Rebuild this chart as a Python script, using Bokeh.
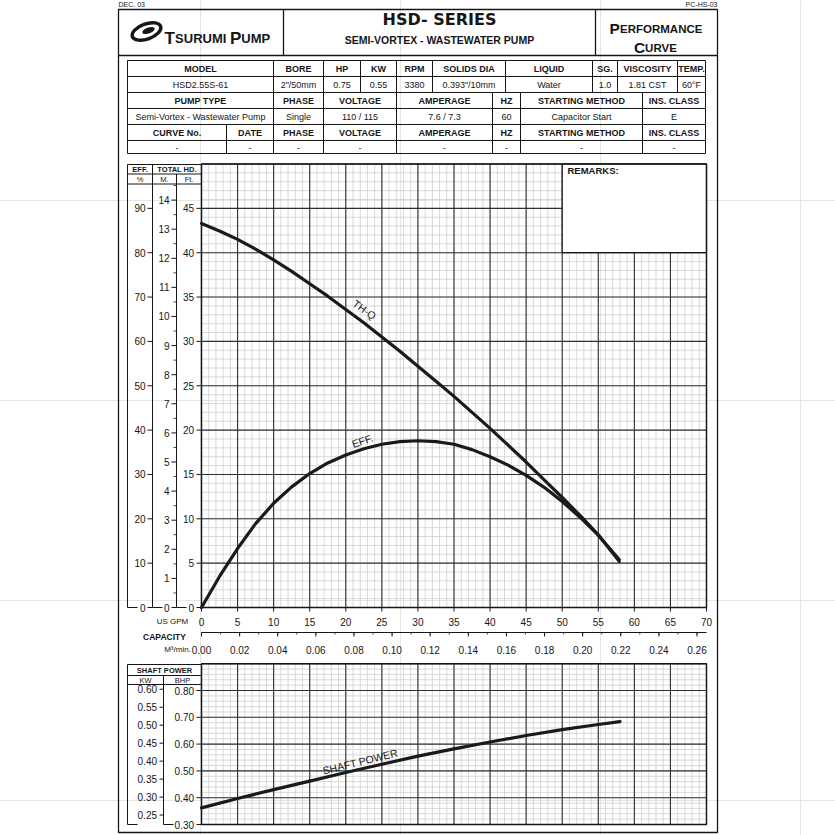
import numpy as np
from bokeh.plotting import figure
from bokeh.models import Range1d
from bokeh.core.properties import value
from bokeh.embed import file_html
from bokeh.resources import INLINE

# ---------------- chart data ----------------
capacity_gpm = [0, 2.5, 5, 7.5, 10, 12.5, 15, 17.5, 20, 22.5, 25, 27.5, 30,
                32.5, 35, 37.5, 40, 42.5, 45, 47.5, 50, 52.5, 55, 57.9]
total_head_ft = [43.3, 42.45, 41.5, 40.4, 39.2, 37.9, 36.5, 35.1, 33.6, 32.1, 30.5, 28.9,
                 27.2, 25.5, 23.8, 22.0, 20.2, 18.3, 16.4, 14.4, 12.4, 10.35, 8.2, 5.2]
efficiency_pct = [0.0, 7.0, 13.3, 18.9, 23.5, 27.2, 30.2, 32.6, 34.4, 35.8, 36.8, 37.4,
                  37.6, 37.4, 36.8, 35.6, 34.0, 32.1, 29.8, 27.1, 23.9, 20.3, 16.3, 10.8]
power_gpm = [0, 5, 10, 15, 20, 25, 30, 35, 40, 45, 50, 55, 58]
shaft_power_bhp = [0.362, 0.397, 0.430, 0.462, 0.494, 0.525, 0.555, 0.582, 0.608,
                   0.632, 0.654, 0.673, 0.684]

gpm_ticks = [0, 5, 10, 15, 20, 25, 30, 35, 40, 45, 50, 55, 60, 65, 70]
m3_ticks = [0.00, 0.02, 0.04, 0.06, 0.08, 0.10, 0.12, 0.14, 0.16, 0.18, 0.20, 0.22, 0.24, 0.26]
ft_ticks = [0, 5, 10, 15, 20, 25, 30, 35, 40, 45]
m_ticks = [0, 1, 2, 3, 4, 5, 6, 7, 8, 9, 10, 11, 12, 13, 14]
eff_ticks = [0, 10, 20, 30, 40, 50, 60, 70, 80, 90]
kw_ticks = [0.25, 0.30, 0.35, 0.40, 0.45, 0.50, 0.55, 0.60]
bhp_ticks = [0.30, 0.40, 0.50, 0.60, 0.70, 0.80]

# specification table text
spec_hdr = ["MODEL", "BORE", "HP", "KW", "RPM", "SOLIDS DIA", "LIQUID", "SG.", "VISCOSITY", "TEMP."]
spec_val = ["HSD2.55S-61", '2"/50mm', "0.75", "0.55", "3380", '0.393"/10mm', "Water", "1.0", "1.81 CST", "60°F"]
elec_hdr = ["PUMP TYPE", "PHASE", "VOLTAGE", "AMPERAGE", "HZ", "STARTING METHOD", "INS. CLASS"]
elec_val = ["Semi-Vortex - Wastewater Pump", "Single", "110 / 115", "7.6 / 7.3", "60", "Capacitor Start", "E"]
curve_hdr = ["CURVE No.", "DATE", "PHASE", "VOLTAGE", "AMPERAGE", "HZ", "STARTING METHOD", "INS. CLASS"]
curve_val = ["-", "-", "-", "-", "-", "-", "-", "-"]

# ---------------- layout (pixels) ----------------
W = H = 835
QX0, QX1 = 201.0, 706.0          # 0 .. 70 GPM
FT_Y0, FT_Y1 = 607.0, 163.5      # 0 .. 50 ft
BH_Y0, BH_Y1 = 824.0, 663.2      # 0.30 .. 0.90 BHP
GAL_PER_M3 = 264.172
FT_PER_M = 3.28084
KW_PER_HP = 0.7457

s_q = (QX1 - QX0) / 70.0
s_ft = (FT_Y0 - FT_Y1) / 50.0
s_bh = (BH_Y0 - BH_Y1) / 0.6


def xr(v0, p0, s):
    return Range1d(v0 - p0 / s, v0 + (W - p0) / s)


def yr(v0, p0, s):
    return Range1d(v0 - (H - p0) / s, v0 + p0 / s)


p = figure(width=W, height=H, x_range=Range1d(0, W), y_range=Range1d(H, 0),
           output_backend="svg", toolbar_location=None, min_border=0,
           x_axis_location=None, y_axis_location=None, outline_line_color=None,
           background_fill_color="white", border_fill_color="white")
p.extra_x_ranges = {"q": xr(0, QX0, s_q), "m3": xr(0, QX0, s_q * GAL_PER_M3)}
p.extra_y_ranges = {"ft": yr(0, FT_Y0, s_ft), "eff": yr(0, FT_Y0, s_ft / 2.0),
                    "m": yr(0, FT_Y0, s_ft * FT_PER_M),
                    "bhp": yr(0.3, BH_Y0, s_bh),
                    "kw": yr(0.3 * KW_PER_HP, BH_Y0, s_bh / KW_PER_HP)}

FONT = "Liberation Sans"
INK = "#161616"


def seg(x0, y0, x1, y1, color=INK, width=1.0, xn="default", yn="default"):
    p.segment(x0=x0, y0=y0, x1=x1, y1=y1, line_color=color, line_width=width,
              x_range_name=xn, y_range_name=yn)


def txt(x, y, t, size, bold=False, align="center", xn="default", yn="default",
        angle=0.0, font=FONT, color=INK, baseline="middle"):
    p.text(x=x, y=y, text=t if isinstance(t, list) else [t],
           x_range_name=xn, y_range_name=yn, angle=angle,
           text_font=value(font), text_font_size=f"{size}px",
           text_font_style="bold" if bold else "normal",
           text_align=align, text_baseline=baseline, text_color=color)


def box(l, r, t, b, width=1.0, color=INK, fill=None):
    p.quad(left=l, right=r, top=t, bottom=b, fill_color=fill, line_color=color,
           line_width=width)


# ---------------- page header ----------------
txt(118, 4, "DEC. 03", 7, align="left")
txt(717, 4, "PC-HS-03", 7, align="right")
box(118, 717, 9, 832, width=1.3)
seg([118, 283, 595], [55, 9, 9], [717, 283, 595], [55, 55, 55], width=1.3)

p.ellipse(x=146, y=31, width=30, height=15, angle=0.35, fill_color=None,
          line_color=INK, line_width=3.5)
p.ellipse(x=148, y=30, width=13, height=6, angle=0.35, fill_color=INK, line_color=None)
# small-caps company name
txt(164, 38, "T", 17, bold=True, align="left", baseline="alphabetic")
txt(174.6, 38, "SURUMI", 13, bold=True, align="left", baseline="alphabetic")
txt(229.5, 38, "P", 17, bold=True, align="left", baseline="alphabetic")
txt(240.8, 38, "UMP", 13, bold=True, align="left", baseline="alphabetic")

txt(439, 19, "HSD- SERIES", 16, bold=True, font="DejaVu Sans")
txt(439, 39, "SEMI-VORTEX - WASTEWATER PUMP", 10.5, bold=True)

txt(609, 28, "P", 15.5, bold=True, align="left", baseline="alphabetic")
txt(619.5, 28, "ERFORMANCE", 11.5, bold=True, align="left", baseline="alphabetic")
txt(633.5, 47, "C", 15.5, bold=True, align="left", baseline="alphabetic")
txt(644.6, 47, "URVE", 11.5, bold=True, align="left", baseline="alphabetic")

# ---------------- specification table ----------------
row_y = [60, 76, 92, 108, 124, 140, 153]
edges_a = [127, 273, 323, 360, 396, 432, 505, 592, 617, 677, 705]
edges_b = [127, 273, 323, 396, 492, 520, 642, 705]
edges_c = [127, 226, 273, 323, 396, 492, 520, 642, 705]
rows = [(edges_a, spec_hdr, True), (edges_a, spec_val, False),
        (edges_b, elec_hdr, True), (edges_b, elec_val, False),
        (edges_c, curve_hdr, True), (edges_c, curve_val, False)]
for i, (ed, labels, bold) in enumerate(rows):
    top, bot = row_y[i], row_y[i + 1]
    box(ed[:-1], ed[1:], top, bot, width=1.0)
    cx = [(a + b) / 2 for a, b in zip(ed[:-1], ed[1:])]
    txt(cx, (top + bot) / 2 + 0.5, labels, 9, bold=bold)

# ---------------- main chart grid ----------------
minor_q = np.arange(0, 71, 1)
minor_ft = np.arange(0, 51, 1)
seg(minor_q, 0, minor_q, 50, color="#c8c8c8", width=0.7, xn="q", yn="ft")
seg(0, minor_ft, 70, minor_ft, color="#c8c8c8", width=0.7, xn="q", yn="ft")
major_ft = np.arange(0, 51, 5)
seg(gpm_ticks, 0, gpm_ticks, 50, color="#303030", width=1.1, xn="q", yn="ft")
seg(0, major_ft, 70, major_ft, color="#303030", width=1.1, xn="q", yn="ft")
p.quad(left=50, right=70, bottom=40, top=50, fill_color="white", line_color=INK,
       line_width=1.2, x_range_name="q", y_range_name="ft")
p.quad(left=0, right=70, bottom=0, top=50, fill_color=None, line_color=INK,
       line_width=1.4, x_range_name="q", y_range_name="ft")
txt(567, 170, "REMARKS:", 9.5, bold=True, align="left")

# bottom ticks of main chart
seg(gpm_ticks, FT_Y0, gpm_ticks, FT_Y0 + 4, width=1.0, xn="q")

# left axis columns (main)
seg([127, 152, 176], [164, 164, 173.5], [127, 152, 176], [FT_Y0] * 3, width=1.0)
seg([127, 152, 176], [FT_Y0] * 3, [137, 162, 186], [FT_Y0] * 3, width=1.0)
seg(127, [164, 173.5, 183.5], 201, [164, 173.5, 183.5], width=1.0)
txt(139.5, 169, "EFF.", 7.5, bold=True)
txt(176.5, 169, "TOTAL HD.", 7.5, bold=True)
txt(139.5, 178.5, "%", 7.5)
txt(164, 178.5, "M.", 7.5)
txt(188.5, 178.5, "Ft.", 7.5)

seg(147, eff_ticks, 152, eff_ticks, width=1.0, yn="eff")
txt(145, eff_ticks, [str(v) for v in eff_ticks], 10, align="right", yn="eff")
m_minor = np.arange(0.5, 14.6, 1.0)
seg(173, m_minor, 176, m_minor, width=0.8, yn="m")
seg(171, m_ticks, 176, m_ticks, width=1.0, yn="m")
txt(169, m_ticks, [str(v) for v in m_ticks], 10, align="right", yn="m")
seg(196, ft_ticks, 201, ft_ticks, width=1.0, yn="ft")
txt(193.5, ft_ticks, [str(v) for v in ft_ticks], 10, align="right", yn="ft")

# capacity axes
txt(gpm_ticks, 621, [str(v) for v in gpm_ticks], 10, xn="q")
txt(172, 621, "US GPM", 8)
txt(164, 636, "CAPACITY", 8.5, bold=True)
txt(177, 649, "M³/min.", 8)
seg(0, 632, 70, 632, width=1.0, xn="q")
m3_minor = np.arange(0.0, 0.265, 0.01)
seg(m3_minor, 632, m3_minor, 634, width=0.8, xn="m3")
seg(m3_ticks, 632, m3_ticks, 636, width=1.0, xn="m3")
txt(m3_ticks, 649, [f"{v:.2f}" for v in m3_ticks], 10, xn="m3")

# ---------------- main curves ----------------
p.line(capacity_gpm, total_head_ft, x_range_name="q", y_range_name="ft",
       line_width=3.2, line_color="#1a1a1a", line_join="round", line_cap="round")
p.line(capacity_gpm, efficiency_pct, x_range_name="q", y_range_name="eff",
       line_width=3.2, line_color="#1a1a1a", line_join="round", line_cap="round")
txt(22.6, 33.6, "TH-Q", 10.5, xn="q", yn="ft", angle=-0.63)
txt(22.3, 37.6, "EFF.", 10.5, xn="q", yn="eff", angle=0.33)

# ---------------- shaft power chart ----------------
minor_b = np.arange(0.30, 0.901, 0.02)
seg(minor_q, 0.3, minor_q, 0.9, color="#c8c8c8", width=0.7, xn="q", yn="bhp")
seg(0, minor_b, 70, minor_b, color="#c8c8c8", width=0.7, xn="q", yn="bhp")
major_b = np.arange(0.30, 0.901, 0.10)
seg(gpm_ticks, 0.3, gpm_ticks, 0.9, color="#303030", width=1.1, xn="q", yn="bhp")
seg(0, major_b, 70, major_b, color="#303030", width=1.1, xn="q", yn="bhp")
p.quad(left=0, right=70, bottom=0.3, top=0.9, fill_color=None, line_color=INK,
       line_width=1.4, x_range_name="q", y_range_name="bhp")

seg([127, 163], [664, 675], [127, 163], [BH_Y0] * 2, width=1.0)
seg([127, 163], [BH_Y0] * 2, [137, 173], [BH_Y0] * 2, width=1.0)
seg(127, [664, 675, 684], 201, [664, 675, 684], width=1.0)
txt(164, 669.5, "SHAFT POWER", 7.5, bold=True)
txt(145, 679.5, "KW", 7.5)
txt(182, 679.5, "BHP", 7.5)

seg(159, kw_ticks, 163, kw_ticks, width=1.0, yn="kw")
txt(156.5, kw_ticks, [f"{v:.2f}" for v in kw_ticks], 10, align="right", yn="kw")
seg(196, bhp_ticks, 201, bhp_ticks, width=1.0, yn="bhp")
txt(193.5, bhp_ticks, [f"{v:.2f}" for v in bhp_ticks], 10, align="right", yn="bhp")

p.line(power_gpm, shaft_power_bhp, x_range_name="q", y_range_name="bhp",
       line_width=3.2, line_color="#1a1a1a", line_join="round", line_cap="round")
txt(22.0, 0.535, "SHAFT POWER", 10.5, xn="q", yn="bhp", angle=0.24)

open("out.html", "w").write(file_html(p, INLINE))
